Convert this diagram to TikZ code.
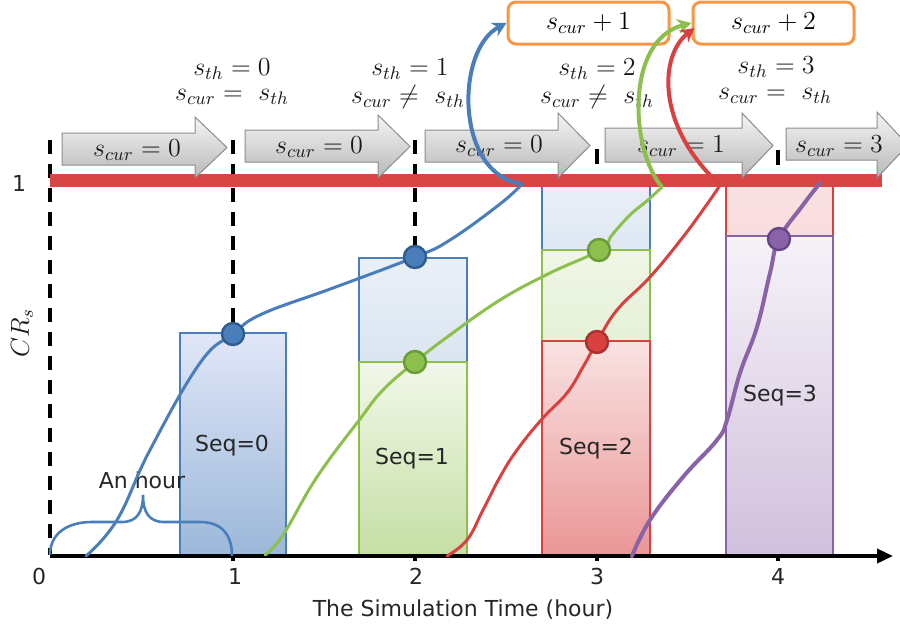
\documentclass[tikz,border=0pt]{standalone}
\usepackage{fix-cm}
\usepackage{fontspec}
\setmainfont{DejaVu Sans}
\usetikzlibrary{arrows.meta,calc}

\definecolor{cblue}{HTML}{4A7EBB}
\definecolor{cbluedk}{HTML}{2F5C8F}
\definecolor{cgreen}{HTML}{8CBF4B}
\definecolor{cgreendk}{HTML}{6A9A36}
\definecolor{cred}{HTML}{D94040}
\definecolor{creddk}{HTML}{A83030}
\definecolor{cpurple}{HTML}{8A62A8}
\definecolor{cpurpledk}{HTML}{654585}
\definecolor{corange}{HTML}{F79646}
\definecolor{redline}{HTML}{D94545}

\tikzset{
  lbl/.style={font=\fontsize{11}{13}\selectfont, text=black!85, inner sep=0pt},
  mth/.style={font=\fontsize{13}{15}\selectfont, text=black!90, inner sep=0pt},
  dashv/.style={line width=2pt, dash pattern=on 7pt off 5pt},
  grayshape/.style={draw=black!45, line width=0.5pt, top color=black!4, bottom color=black!28},
  curve/.style={line width=1.5pt, smooth, tension=0.7, line cap=round},
  jump/.style={line width=2pt, -{Stealth[length=7pt,width=7.5pt]}},
  dot/.style={circle, minimum size=11pt, inner sep=0pt, line width=1.2pt},
  outbox/.style={draw=corange, line width=1.5pt, rounded corners=4pt,
    minimum width=80.5pt, minimum height=21pt, fill=white, inner sep=0pt,
    font=\fontsize{13}{15}\selectfont},
  barline/.style={line width=0.6pt},
}

% gray block arrow: left, head start, tip, body top, body bottom, head top, head bottom
\newcommand\grayarrow[7]{%
  \path[grayshape] (#1,#4) -- (#2,#4) -- (#2,#6) -- (#3,{(#6+#7)/2})
    -- (#2,#7) -- (#2,#5) -- (#1,#5) -- cycle;}

\begin{document}
\begin{tikzpicture}[x=0.5pt,y=-0.5pt]
\useasboundingbox (0,0) rectangle (900,632);

% ---- bars ----
\path[barline, draw=cblue, top color=blue!5!white!90!cblue, bottom color=cblue!55] (180,333) rectangle (286,555);

\path[barline, draw=cblue, top color=cblue!12, bottom color=cblue!20] (359,258) rectangle (467,362);
\path[barline, draw=cgreen, top color=cgreen!12, bottom color=cgreen!50] (359,362) rectangle (467,555);

\path[barline, draw=cblue, top color=cblue!12, bottom color=cblue!18] (542,180) rectangle (650,250);
\path[barline, draw=cgreen, top color=cgreen!14, bottom color=cgreen!22] (542,250) rectangle (650,341);
\path[barline, draw=cred, top color=cred!15, bottom color=cred!55] (542,341) rectangle (650,555);

\path[barline, draw=cred, top color=cred!15, bottom color=cred!18] (726,180) rectangle (833,236);
\path[barline, draw=cpurple, top color=cpurple!8, bottom color=cpurple!40] (726,236) rectangle (833,555);

% ---- dashed time marks ----
\draw[dashv] (50,140) -- (50,555);
\draw[dashv] (233,140) -- (233,333);
\draw[dashv] (415,140) -- (415,258);
\draw[line width=2pt] (597,149) -- (597,164);
\draw[line width=2pt] (778,150) -- (778,165);

% ---- level 1 line ----
\draw[redline, line width=6.5pt] (50,180) -- (882,180);

% ---- state arrows ----
\grayarrow{62}{195}{227}{133}{165}{117}{178}
\grayarrow{245}{378}{410}{130}{162}{115}{178}
\grayarrow{425}{558}{590}{130}{162}{113}{178}
\grayarrow{605}{742}{773}{128}{162}{113}{178}
\grayarrow{786}{877}{908}{128}{160}{112}{178}

\node[mth] (a1) at (137,150) {$s_{cur} = 0$};
\node[mth] (a2) at (319,147) {$s_{cur} = 0$};
\node[mth] (a3) at (499,146) {$s_{cur} = 0$};
\node[mth] (a4) at (681,146) {$s_{cur} = 1$};
\node[mth] (a5) at (839,146) {$s_{cur} = 3$};

% ---- threshold checks ----
\node[mth] (c0a) at (232,69) {$s_{th} = 0$};
\node[mth] (c0b) at (232,97) {$s_{cur} =\ s_{th}$};
\node[mth] (c1a) at (410,69) {$s_{th} = 1$};
\node[mth] (c1b) at (408,97) {$s_{cur} \neq\ s_{th}$};
\node[mth] (c2a) at (597,69) {$s_{th} = 2$};
\node[mth] (c2b) at (597,97) {$s_{cur} \neq\ s_{th}$};
\node[mth] (c3a) at (776,67) {$s_{th} = 3$};
\node[mth] (c3b) at (775,96) {$s_{cur} =\ s_{th}$};

% ---- update boxes ----
\node[outbox] (b1) at (588.5,23) {$s_{cur} + 1$};
\node[outbox] (b2) at (773.5,23) {$s_{cur} + 2$};

% ---- axes ----
\draw[line width=1.8pt, -{Triangle[length=8pt,width=7pt]}] (50,556) -- (893,556);
\foreach \x in {233,415,597,778} \draw[line width=2pt] (\x,556) -- (\x,561);

\node[lbl] (x0) at (39,576) {0};
\node[lbl] (x1) at (235,576) {1};
\node[lbl] (x2) at (416,576) {2};
\node[lbl] (x3) at (597,576) {3};
\node[lbl] (x4) at (778,576) {4};
\node[lbl] (xt) at (463,610) {The Simulation Time (hour)};
\node[lbl] (y1) at (19,183) {1};
\node[mth, rotate=90] (yt) at (22,333) {$CR_s$};

% ---- one hour brace ----
\draw[cblue, line width=1.3pt]
  (50,555) .. controls (50,533) and (68,522) .. (92,522) -- (122,522)
  .. controls (137,522) and (143,512) .. (143,495)
  .. controls (143,512) and (149,522) .. (164,522) -- (200,522)
  .. controls (222,522) and (232,535) .. (232,556);
\node[lbl] (hr) at (142,480) {An hour};

% ---- sequence labels ----
\node[lbl] (s0) at (232,446) {Seq=0};
\node[lbl] (s1) at (412,459) {Seq=1};
\node[lbl] (s2) at (596,449) {Seq=2};
\node[lbl] (s3) at (780,396) {Seq=3};

% ---- progress curves ----
\draw[cblue, curve] plot coordinates {(86,556) (117,520) (150,450) (200,363) (233,334) (262,314) (333,288) (415,257) (450,240) (500,204) (522,184)};
\draw[cgreen, curve] plot coordinates {(265,555) (283,535) (317,477) (360,419) (383,390) (415,362) (450,335) (500,300) (550,273) (600,250) (612,235) (630,215) (648,200) (662,187)};
\draw[cred, curve] plot coordinates {(447,556) (467,540) (483,510) (500,477) (517,450) (542,419) (567,393) (583,367) (597,342) (617,310) (650,277) (683,237) (710,200) (720,185)};
\draw[cpurple, curve, line width=2pt] plot coordinates {(632,556) (650,520) (683,477) (717,440) (727,420) (740,373) (757,327) (770,273) (779,239) (803,205) (820,183)};

\coordinate (bEnd) at (522,184);
\coordinate (gEnd) at (662,187);
\coordinate (rEnd) at (720,185);
\draw[cblue, jump] (bEnd) .. controls (455,175) and (455,50) .. (b1.west);
\draw[cgreen, jump] (gEnd) .. controls (630,150) and (625,40) .. (b2.west);
\draw[cred, jump] (rEnd) .. controls (655,125) and (660,55) .. ($(b2.west)+(3,5)$);

% ---- checkpoints ----
\node[dot, fill=cblue, draw=cbluedk] (p1) at (233,334) {};
\node[dot, fill=cblue, draw=cbluedk] (p2) at (415,257) {};
\node[dot, fill=cgreen, draw=cgreendk] (p3) at (415,362) {};
\node[dot, fill=cgreen, draw=cgreendk] (p4) at (599,250) {};
\node[dot, fill=cred, draw=creddk] (p5) at (597,342) {};
\node[dot, fill=cpurple, draw=cpurpledk] (p6) at (779,239) {};
\end{tikzpicture}
\end{document}
